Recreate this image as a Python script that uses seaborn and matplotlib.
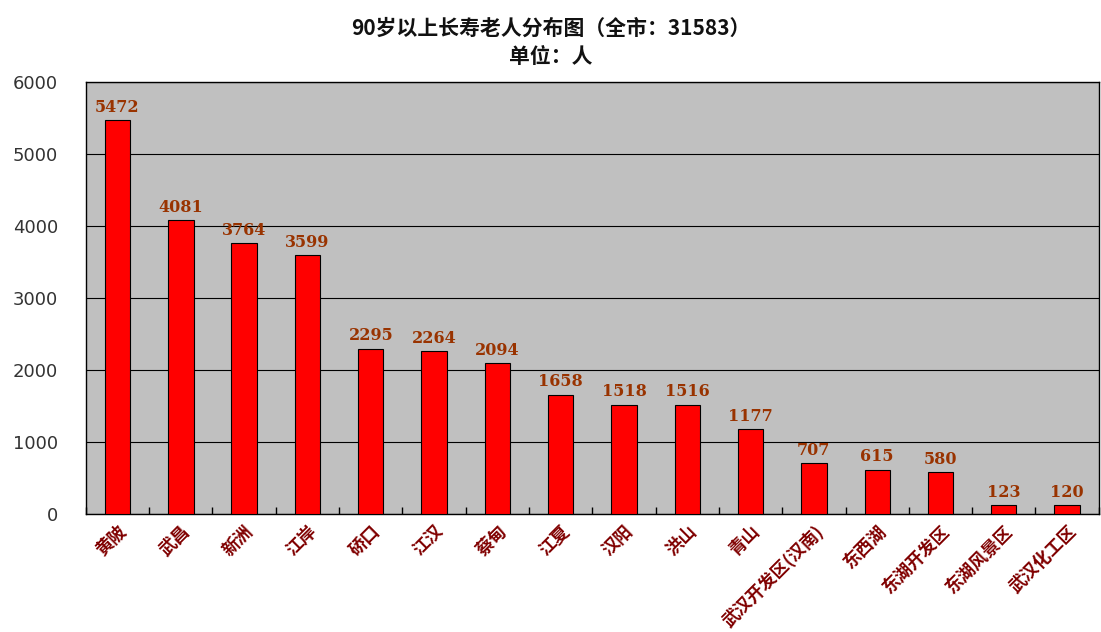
import matplotlib
matplotlib.use("Agg")
import matplotlib.pyplot as plt
import seaborn as sns
import pandas as pd

# 数据
districts = ["黄陂", "武昌", "新洲", "江岸", "硚口", "江汉", "蔡甸", "江夏", "汉阳", "洪山",
             "青山", "武汉开发区(汉南)", "东西湖", "东湖开发区", "东湖风景区", "武汉化工区"]
counts = [5472, 4081, 3764, 3599, 2295, 2264, 2094, 1658, 1518, 1516,
          1177, 707, 615, 580, 123, 120]
yticks = [0, 1000, 2000, 3000, 4000, 5000, 6000]

df = pd.DataFrame({"区": districts, "人数": counts})

sns.set_style("white", {"xtick.direction": "in"})
plt.rcParams['font.family'] = ['Noto Sans CJK SC', 'DejaVu Sans']

fig = plt.figure(figsize=(11.01, 6.32), dpi=100)
ax = fig.add_axes([0.078, 0.187, 0.92, 0.683])
ax.set_facecolor("#c0c0c0")

sns.barplot(data=df, x="区", y="人数", color="#ff0000", width=0.4,
            edgecolor="black", linewidth=0.8, saturation=1, ax=ax, zorder=3)

ax.set_ylim(0, 6000)
ax.set_yticks(yticks)
ax.set_yticklabels([str(v) for v in yticks], fontsize=13, color="#333333", family="DejaVu Sans")
ax.yaxis.grid(True, color="black", linewidth=0.8, zorder=0)
ax.set_xlim(-0.5, len(districts) - 0.5)
ax.tick_params(axis="y", length=0, pad=20)
ax.set_xticks(range(len(districts)))
ax.set_xticklabels(districts, rotation=45, ha="right", rotation_mode="anchor",
                   fontsize=12.5, fontweight="bold", color="#800000", family="Noto Sans CJK SC")
ax.set_xticks([i - 0.5 for i in range(len(districts) + 1)], minor=True)
ax.tick_params(axis="x", which="major", length=0, pad=6)
ax.tick_params(axis="x", which="minor", length=5, width=1, direction="in",
               bottom=True, color="black")
ax.set_xlabel("")
ax.set_ylabel("")
for s in ax.spines.values():
    s.set_color("black")
    s.set_linewidth(1)

# 数值标签
for i, v in enumerate(counts):
    ax.text(i, v + 60, str(v), ha="center", va="bottom", fontsize=11.5,
            fontweight="bold", color="#993300", family="DejaVu Serif")

fig.text(0.5, 0.955, "90岁以上长寿老人分布图（全市：31583）", ha="center", va="center",
         fontsize=15, fontweight="bold", color="#111111")
fig.text(0.5, 0.91, "单位：人", ha="center", va="center", fontsize=15, fontweight="bold",
         color="#111111")

fig.savefig("out.png", dpi=100)
